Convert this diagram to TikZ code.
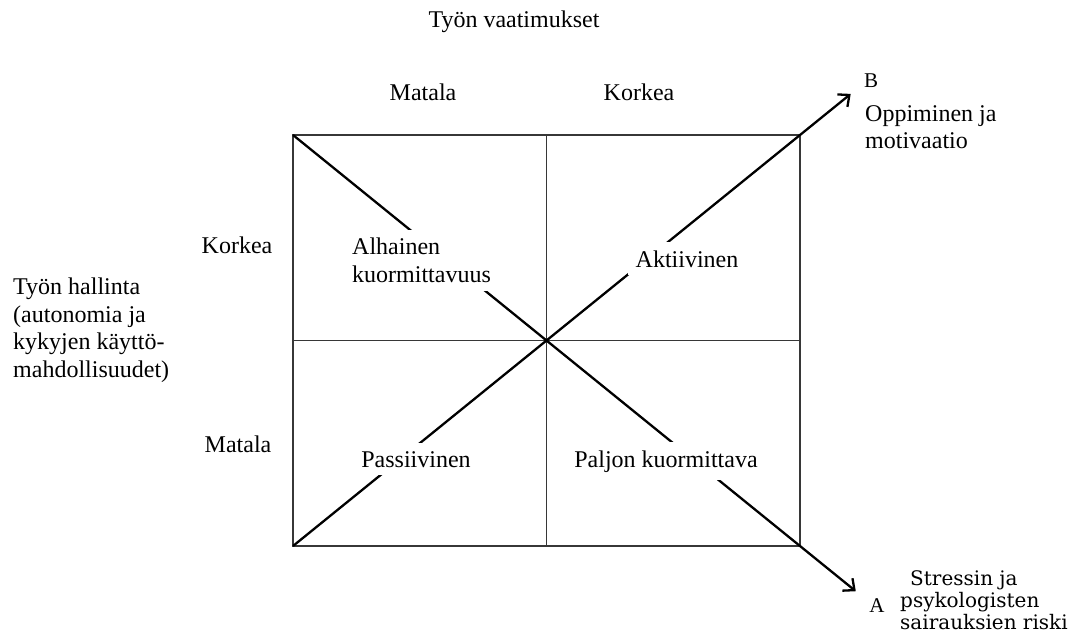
\documentclass[tikz,border=0pt]{standalone}
\usepackage{fontspec}
\setmainfont{Liberation Serif}
\newfontfamily\riskifont{DejaVu Serif}
\usetikzlibrary{arrows.meta, calc}
\definecolor{viiva}{RGB}{55,55,55}
\tikzset{
  nimio/.style={font=\fontsize{24}{27.5}\selectfont, inner sep=0pt, align=left},
  kentta/.style={nimio, fill=white, inner sep=8pt},
  ruudukko/.style={draw=viiva, line width=1.9pt},
  nuoli/.style={-{Straight Barb[length=9pt,width=16pt]}, line width=2.3pt},
}

\begin{document}
\begin{tikzpicture}[x=1pt, y=-1pt]
\useasboundingbox (0,0) rectangle (1070,642);

% nelikentta
\coordinate (vy) at (293,135);
\coordinate (oa) at (800,546);
\coordinate (va) at (293,546);
\coordinate (oy) at (800,135);
\coordinate (keski) at (546.5,340.5);

\draw[ruudukko] (vy) rectangle (oa);
\draw[ruudukko] (vy -| keski) -- (va -| keski);
\draw[ruudukko] (vy |- keski) -- (oy |- keski);

% diagonaalit A ja B
\coordinate (karkiA) at ($(vy)!1.11!(oa)$);
\coordinate (karkiB) at ($(va)!1.10!(oy)$);
\draw[nuoli] (vy) -- (karkiA);
\draw[nuoli] (va) -- (karkiB);

\node[kentta, anchor=north west] (alhainen) at (344,230)
{Alhainen\\kuormittavuus};
\node[kentta, anchor=base] (aktiivinen) at (687,267) {Aktiivinen};
\node[kentta, anchor=base] (passiivinen) at (416,467) {Passiivinen};
\node[kentta, anchor=base] (paljon) at (666,467) {Paljon kuormittava};

\node[nimio, anchor=base] (vaatimukset) at (514,28) {Työn vaatimukset};
\node[nimio, anchor=base] (matalaV) at (423,100) {Matala};
\node[nimio, anchor=base] (korkeaV) at (639,100) {Korkea};
\node[nimio, anchor=base] (korkeaH) at (237,253) {Korkea};
\node[nimio, anchor=base] (matalaH) at (238,452) {Matala};

\node[nimio, anchor=north west] (hallinta) at (13,278)
{Työn hallinta\\(autonomia ja\\kykyjen käyttö-\\mahdollisuudet)};

\node[nimio, font=\fontsize{21}{22}\selectfont, anchor=base] (merkkiB) at (871,87) {B};
\node[nimio, anchor=north west] (oppiminen) at (865,105)
{Oppiminen ja\\motivaatio};

\node[nimio, font=\fontsize{21}{22}\selectfont, anchor=base] (merkkiA) at (877,612) {A};
\node[nimio, font=\riskifont\fontsize{20}{22}\selectfont, anchor=north west] (riski) at (900,570)
{\hspace*{10pt}Stressin ja\\psykologisten\\sairauksien riski};

\end{tikzpicture}
\end{document}
